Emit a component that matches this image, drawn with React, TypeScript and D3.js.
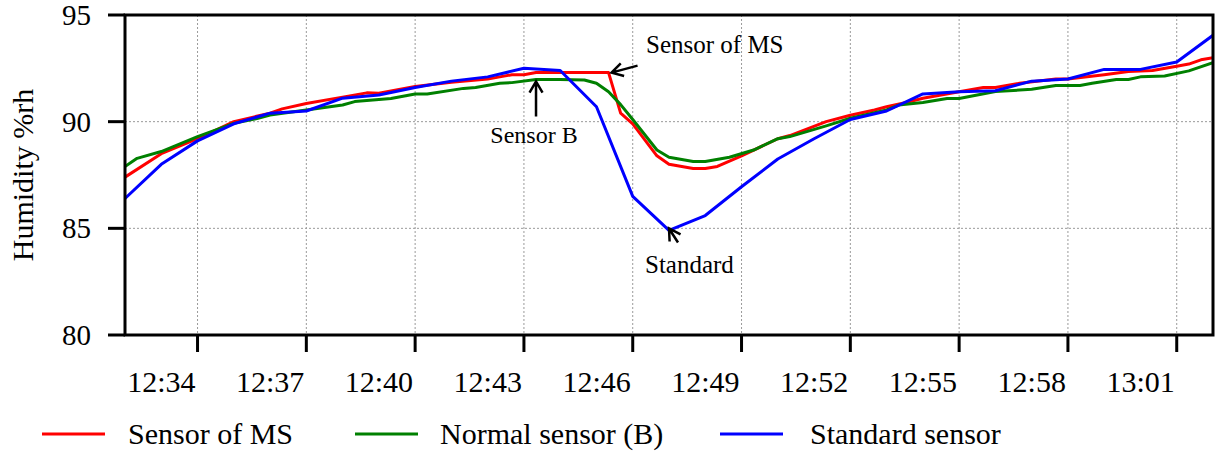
import React, { useEffect, useRef } from "react";
import * as d3 from "d3";

// Sensor of MS (20 s logging, vertices of the recorded trace)
const msTimes = [
  "12:32:00", "12:33:00", "12:34:00", "12:35:00", "12:36:00", "12:36:20", "12:37:00", "12:38:00",
  "12:38:40", "12:39:00", "12:40:00", "12:41:00", "12:42:00", "12:42:20", "12:42:40", "12:43:00",
  "12:43:20", "12:44:00", "12:45:20", "12:45:40", "12:46:00", "12:46:40", "12:47:00", "12:47:40",
  "12:48:00", "12:48:20", "12:49:00", "12:50:00", "12:50:20", "12:51:20", "12:52:00", "12:52:40",
  "12:53:00", "12:53:40", "12:54:00", "12:55:00", "12:55:40", "12:56:00", "12:56:40", "12:57:40",
  "12:58:00", "12:59:00", "12:59:40", "13:00:20", "13:01:00", "13:01:20", "13:01:40", "13:02:00",
];
const msValues = [
  87.4, 88.5, 89.2, 90.0, 90.4, 90.6, 90.85, 91.15,
  91.35, 91.33, 91.65, 91.85, 92.0, 92.1, 92.2, 92.2,
  92.3, 92.3, 92.3, 90.4, 89.9, 88.4, 88.0, 87.8,
  87.8, 87.9, 88.4, 89.2, 89.35, 90.0, 90.3, 90.55,
  90.7, 90.95, 91.1, 91.4, 91.6, 91.6, 91.8, 92.0,
  92.0, 92.2, 92.35, 92.4, 92.6, 92.7, 92.9, 93.0,
];

// Normal sensor (B)
const bTimes = [
  "12:32:00", "12:32:20", "12:33:00", "12:33:20", "12:34:00", "12:35:00", "12:35:40", "12:36:00",
  "12:37:00", "12:38:00", "12:38:20", "12:39:20", "12:40:00", "12:40:20", "12:41:20", "12:41:40",
  "12:42:20", "12:42:40", "12:43:20", "12:44:00", "12:44:40", "12:45:00", "12:45:20", "12:45:40",
  "12:46:00", "12:46:40", "12:47:00", "12:47:40", "12:48:00", "12:48:40", "12:49:20", "12:50:00",
  "12:50:20", "12:51:20", "12:52:00", "12:53:00", "12:53:20", "12:54:00", "12:54:40", "12:55:00",
  "12:56:00", "12:56:40", "12:57:00", "12:57:40", "12:58:20", "12:58:40", "12:59:20", "12:59:40",
  "13:00:00", "13:00:40", "13:01:20", "13:02:00",
];
const bValues = [
  87.9, 88.28, 88.6, 88.83, 89.3, 89.92, 90.16, 90.31,
  90.55, 90.78, 90.94, 91.09, 91.3, 91.3, 91.56, 91.6,
  91.8, 91.83, 91.98, 91.98, 91.95, 91.8, 91.4, 90.8,
  90.1, 88.67, 88.33, 88.13, 88.13, 88.33, 88.67, 89.2,
  89.3, 89.8, 90.16, 90.55, 90.78, 90.9, 91.09, 91.09,
  91.41, 91.48, 91.52, 91.7, 91.7, 91.8, 91.98, 91.98,
  92.1, 92.14, 92.38, 92.77,
];

// Standard sensor (1 min logging)
const stdTimes = [
  "12:32:00", "12:33:00", "12:34:00", "12:35:00", "12:36:00", "12:37:00", "12:38:00", "12:39:00",
  "12:40:00", "12:41:00", "12:42:00", "12:43:00", "12:44:00", "12:45:00", "12:46:00", "12:47:00",
  "12:48:00", "12:49:00", "12:50:00", "12:51:00", "12:52:00", "12:53:00", "12:54:00", "12:55:00",
  "12:56:00", "12:57:00", "12:58:00", "12:59:00", "13:00:00", "13:01:00", "13:02:00",
];
const stdValues = [
  86.4, 88.0, 89.1, 89.9, 90.4, 90.5, 91.1, 91.25,
  91.6, 91.9, 92.1, 92.5, 92.4, 90.7, 86.5, 84.9,
  85.6, 86.95, 88.25, 89.2, 90.1, 90.5, 91.3, 91.4,
  91.45, 91.9, 92.0, 92.45, 92.45, 92.8, 94.05,
];

const seriesNames = ["Sensor of MS", "Normal sensor (B)", "Standard sensor"];
const seriesColors = ["#ff0000", "#008000", "#0000ff"];

const xTickLabels = ["12:34", "12:37", "12:40", "12:43", "12:46", "12:49", "12:52", "12:55", "12:58", "13:01"];
const yTicks = [80, 85, 90, 95];
const timeStart = "12:32:00";
const timeEnd = "13:02:00";
const yLabel = "Humidity %rh";

const W = 1215;
const H = 452;
const FONT = "'Times New Roman', Times, 'Liberation Serif', 'DejaVu Serif', serif";

export default function App() {
  const ref = useRef<SVGSVGElement | null>(null);

  useEffect(() => {
    const svg = d3.select(ref.current);
    svg.selectAll("*").remove();

    const parseT = d3.timeParse("%H:%M:%S");
    const parseHM = d3.timeParse("%H:%M");

    const left = 125, right = 1213, top = 15, bottom = 335;
    const x = d3.scaleTime().domain([parseT(timeStart)!, parseT(timeEnd)!]).range([left, right]);
    const y = d3.scaleLinear().domain([80, 95]).range([bottom, top]);

    const xTicks = xTickLabels.map((s) => parseHM(s)!);

    const txt = (sel: any, size: number) => sel.style("font-family", FONT).style("font-size", `${size}px`);

    // grid
    const grid = svg.append("g").attr("stroke", "#9a9a9a").attr("stroke-width", 1).attr("stroke-dasharray", "2,2");
    xTicks.forEach((t) => {
      grid.append("line").attr("x1", x(t)).attr("x2", x(t)).attr("y1", top).attr("y2", bottom);
    });
    yTicks.filter((v) => v > 80 && v < 95).forEach((v) => {
      grid.append("line").attr("x1", left).attr("x2", right).attr("y1", y(v)).attr("y2", y(v));
    });

    // series
    const clip = svg.append("clipPath").attr("id", "plotclip");
    clip.append("rect").attr("x", left).attr("y", top - 5).attr("width", right - left).attr("height", bottom - top + 5);

    const series = [
      { times: msTimes, values: msValues },
      { times: bTimes, values: bValues },
      { times: stdTimes, values: stdValues },
    ];
    const line = d3
      .line<[Date, number]>()
      .x((d) => x(d[0]))
      .y((d) => y(d[1]));
    const lines = svg.append("g").attr("clip-path", "url(#plotclip)");
    series.forEach((s, i) => {
      const pts: [Date, number][] = s.times.map((t, k) => [parseT(t)!, s.values[k]]);
      lines
        .append("path")
        .attr("d", line(pts)!)
        .attr("fill", "none")
        .attr("stroke", seriesColors[i])
        .attr("stroke-width", 3)
        .attr("stroke-linejoin", "round");
    });

    // frame
    const frame = svg.append("g").attr("stroke", "#000").attr("stroke-width", 3).attr("fill", "none");
    frame.append("rect").attr("x", left).attr("y", top).attr("width", right - left).attr("height", bottom - top);

    // y axis ticks and labels
    yTicks.forEach((v) => {
      frame.append("line").attr("x1", left - 17).attr("x2", left).attr("y1", y(v)).attr("y2", y(v));
      txt(
        svg
          .append("text")
          .attr("x", 91)
          .attr("y", y(v))
          .attr("dy", "0.35em")
          .attr("text-anchor", "end"),
        29
      ).text(String(v));
    });

    // x axis ticks; labels sit to the left of their tick
    xTicks.forEach((t, i) => {
      frame.append("line").attr("x1", x(t)).attr("x2", x(t)).attr("y1", bottom).attr("y2", bottom + 17);
      txt(
        svg
          .append("text")
          .attr("x", x(t) - 2)
          .attr("y", 392)
          .attr("text-anchor", "end"),
        30
      ).text(xTickLabels[i]);
    });

    // y axis title
    txt(
      svg
        .append("text")
        .attr("transform", `translate(33, ${(top + bottom) / 2}) rotate(-90)`)
        .attr("text-anchor", "middle"),
      30
    ).text(yLabel);

    // annotations
    const arrow = (x1: number, y1: number, x2: number, y2: number) => {
      const a = Math.atan2(y2 - y1, x2 - x1);
      const len = 13;
      const spread = Math.PI / 6;
      const p1 = [x2 - len * Math.cos(a - spread), y2 - len * Math.sin(a - spread)];
      const p2 = [x2 - len * Math.cos(a + spread), y2 - len * Math.sin(a + spread)];
      svg
        .append("path")
        .attr("d", `M${x1},${y1}L${x2},${y2}M${p1[0]},${p1[1]}L${x2},${y2}L${p2[0]},${p2[1]}`)
        .attr("fill", "none")
        .attr("stroke", "#000")
        .attr("stroke-width", 2.5);
    };
    const label = (tx: number, ty: number, s: string, anchor: string, size: number) => {
      txt(svg.append("text").attr("x", tx).attr("y", ty).attr("text-anchor", anchor), size).text(s);
    };

    const msTip = [x(parseT("12:45:20")!) + 3, y(92.3)];
    arrow(msTip[0] + 26, msTip[1] - 7, msTip[0], msTip[1]);
    label(646, 53, "Sensor of MS", "start", 25);

    const bTip = [x(parseT("12:43:20")!), y(91.98) + 2];
    arrow(bTip[0], bTip[1] + 35, bTip[0], bTip[1]);
    label(bTip[0] - 2, 143, "Sensor B", "middle", 24);

    const stdTip = [x(parseT("12:47:00")!), y(84.9) - 2];
    arrow(stdTip[0] + 9, stdTip[1] + 14, stdTip[0], stdTip[1]);
    label(645, 273, "Standard", "start", 25);

    // legend
    const legendLineX = [42, 355, 720];
    const legendTextX = [128, 440, 810];
    seriesNames.forEach((name, i) => {
      svg
        .append("line")
        .attr("x1", legendLineX[i])
        .attr("x2", legendLineX[i] + 63)
        .attr("y1", 434)
        .attr("y2", 434)
        .attr("stroke", seriesColors[i])
        .attr("stroke-width", 3);
      txt(svg.append("text").attr("x", legendTextX[i]).attr("y", 444), 30).text(name);
    });
  }, []);

  return (
    <svg
      ref={ref}
      width={W}
      height={H}
      style={{ position: "absolute", left: 0, top: 0, background: "#fff", display: "block" }}
    />
  );
}
